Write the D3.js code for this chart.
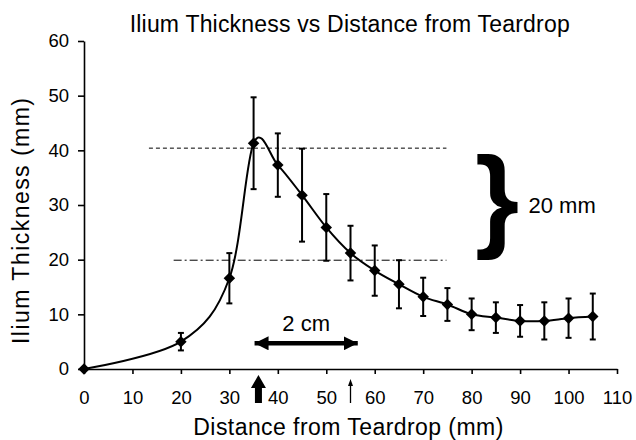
<!DOCTYPE html>
<html>
<head>
<meta charset="utf-8">
<script src="https://cdn.jsdelivr.net/npm/d3@7"></script>
<style>
    body { margin: 0; background: #fff; }
    text { font-family: "Liberation Sans", Arial, sans-serif; fill: #000; }
</style>
</head>
<body>
<div id="chart"></div>
<script>
const distances = [0, 20, 30, 35, 40, 45, 50, 55, 60, 65, 70, 75, 80, 85, 90, 95, 100, 105];
const thickness = [0, 5.0, 16.6, 41.3, 37.3, 31.8, 25.9, 21.2, 18.0, 15.5, 13.2, 11.8, 10.0, 9.4, 8.8, 8.8, 9.3, 9.6];
const errors = [0, 1.6, 4.6, 8.4, 5.8, 8.5, 6.1, 5.0, 4.6, 4.4, 3.5, 3.0, 2.9, 2.8, 2.9, 3.4, 3.6, 4.2];

const xTicks = [0, 10, 20, 30, 40, 50, 60, 70, 80, 90, 100, 110];
const yTicks = [0, 10, 20, 30, 40, 50, 60];

// annotation lines (level, start, end) in data units
const refLevels = [40.4, 19.9];
const refStarts = [13.4, 18.5];
const refEnds = [74.8, 74.8];
// "2 cm" span and the two markers under the axis
const spanArrow = [35.2, 56.5];
const spanLevel = 4.7;
const markerArrows = [36, 55];

let width = 636;
let height = 440;

let svg = d3.select('#chart')
    .append('svg')
    .attr('width', width)
    .attr('height', height)
;

let x = d3.scaleLinear()
    .domain([0, 110])
    .range([84, 617])
;
let y = d3.scaleLinear()
    .domain([0, 60])
    .range([369, 41])
;

let points = distances.map((d, i) => ({x: d, y: thickness[i], e: errors[i]}));

// arrow head markers
let defs = svg.append('defs');
defs.append('marker')
    .attr('id', 'head')
    .attr('viewBox', '0 0 14 14')
    .attr('refX', 14)
    .attr('refY', 7)
    .attr('markerWidth', 14)
    .attr('markerHeight', 14)
    .attr('markerUnits', 'userSpaceOnUse')
    .attr('orient', 'auto-start-reverse')
    .append('path')
    .attr('d', 'M0,0 L14,7 L0,14 Z')
    .style('fill', '#000')
;

// axes
let yAxis = svg.append('g')
    .attr('transform', `translate(${x(0)},0)`)
    .call(d3.axisLeft(y).tickValues(yTicks).tickSize(6).tickPadding(9).tickSizeOuter(0))
;
let xAxis = svg.append('g')
    .attr('transform', `translate(0,${y(0)})`)
    .call(d3.axisBottom(x).tickValues(xTicks).tickSize(5).tickPadding(17).tickSizeOuter(0))
;
[yAxis, xAxis].forEach(g => {
    g.select('.domain').style('stroke', '#000').style('stroke-width', 1.6);
    g.selectAll('.tick line').style('stroke', '#000').style('stroke-width', 1.6);
    g.selectAll('.tick text')
        .style('font-size', '18.5px')
        .style('font-family', '"Liberation Sans", Arial, sans-serif')
        .style('fill', '#000');
});

// dashed reference lines
svg.selectAll('.ref')
    .data(refLevels)
    .enter()
    .append('line')
    .attr('class', 'ref')
    .attr('x1', (d, i) => x(refStarts[i]))
    .attr('x2', (d, i) => x(refEnds[i]))
    .attr('y1', d => y(d))
    .attr('y2', d => y(d))
    .style('stroke', '#000')
    .style('stroke-width', 1)
    .style('stroke-dasharray', (d, i) => i == 0 ? '4,3' : '8,3,2,3')
;

// smoothed line through the means
let line = d3.line()
    .x(d => x(d.x))
    .y(d => y(d.y))
    .curve(d3.curveCardinal.tension(0))
;
svg.append('path')
    .datum(points)
    .attr('d', line)
    .style('fill', 'none')
    .style('stroke', '#000')
    .style('stroke-width', 2)
;

// error bars
let bars = svg.selectAll('.err')
    .data(points.filter(d => d.e > 0))
    .enter()
    .append('g')
    .attr('class', 'err')
    .style('stroke', '#000')
    .style('stroke-width', 2)
;
bars.append('line')
    .attr('x1', d => x(d.x)).attr('x2', d => x(d.x))
    .attr('y1', d => y(d.y - d.e)).attr('y2', d => y(d.y + d.e))
;
bars.append('line')
    .attr('x1', d => x(d.x) - 3).attr('x2', d => x(d.x) + 3)
    .attr('y1', d => y(d.y + d.e)).attr('y2', d => y(d.y + d.e))
;
bars.append('line')
    .attr('x1', d => x(d.x) - 3).attr('x2', d => x(d.x) + 3)
    .attr('y1', d => y(d.y - d.e)).attr('y2', d => y(d.y - d.e))
;

// diamond markers
svg.selectAll('.pt')
    .data(points)
    .enter()
    .append('path')
    .attr('class', 'pt')
    .attr('d', d3.symbol().type(d3.symbolSquare).size(66))
    .attr('transform', d => `translate(${x(d.x)},${y(d.y)}) rotate(45)`)
    .style('fill', '#000')
;

// "2 cm" double arrow
svg.append('line')
    .attr('x1', x(spanArrow[0]))
    .attr('x2', x(spanArrow[1]))
    .attr('y1', y(spanLevel))
    .attr('y2', y(spanLevel))
    .style('stroke', '#000')
    .style('stroke-width', 4.5)
    .attr('marker-start', 'url(#head)')
    .attr('marker-end', 'url(#head)')
;
svg.append('text')
    .attr('x', (x(spanArrow[0]) + x(spanArrow[1])) / 2)
    .attr('y', y(spanLevel) - 12.5)
    .attr('text-anchor', 'middle')
    .style('font-size', '22px')
    .text('2 cm')
;

// up arrows under the axis: a thick one and a thin one
let base = y(0) + 34;
let ax0 = x(markerArrows[0]);
svg.append('path')
    .attr('d', `M${ax0 - 3.5},${base} L${ax0 - 3.5},${base - 15} L${ax0 - 7.5},${base - 15}`
        + ` L${ax0},${base - 28} L${ax0 + 7.5},${base - 15} L${ax0 + 3.5},${base - 15} L${ax0 + 3.5},${base} Z`)
    .style('fill', '#000')
;
let ax1 = x(markerArrows[1]);
svg.append('line')
    .attr('x1', ax1).attr('x2', ax1)
    .attr('y1', base).attr('y2', base - 18)
    .style('stroke', '#000')
    .style('stroke-width', 1.3)
;
svg.append('path')
    .attr('d', `M${ax1 - 2.5},${base - 17} L${ax1},${base - 24} L${ax1 + 2.5},${base - 17} Z`)
    .style('fill', '#000')
;

// curly brace showing the 20 mm drop
let braceTop = y(39.5);
let braceBottom = y(20);
let braceSize = (braceBottom - braceTop) / 0.938;
svg.append('text')
    .attr('x', x(80.7))
    .attr('y', braceTop + 0.728 * braceSize)
    .style('font-size', braceSize + 'px')
    .style('font-weight', 'bold')
    .text('}')
;
svg.append('text')
    .attr('x', 528.5)
    .attr('y', 213.3)
    .style('font-size', '22px')
    .text('20 mm')
;

// titles
svg.append('text')
    .attr('x', 349.7)
    .attr('y', 31.7)
    .attr('text-anchor', 'middle')
    .attr('textLength', 440)
    .style('font-size', '23px')
    .text('Ilium Thickness vs Distance from Teardrop')
;
svg.append('text')
    .attr('x', 348.3)
    .attr('y', 434.5)
    .attr('text-anchor', 'middle')
    .attr('textLength', 310)
    .style('font-size', '23px')
    .text('Distance from Teardrop (mm)')
;
svg.append('text')
    .attr('transform', 'translate(29,221) rotate(-90)')
    .attr('text-anchor', 'middle')
    .attr('textLength', 246)
    .style('font-size', '23px')
    .text('Ilium Thickness (mm)')
;
</script>
</body>
</html>
